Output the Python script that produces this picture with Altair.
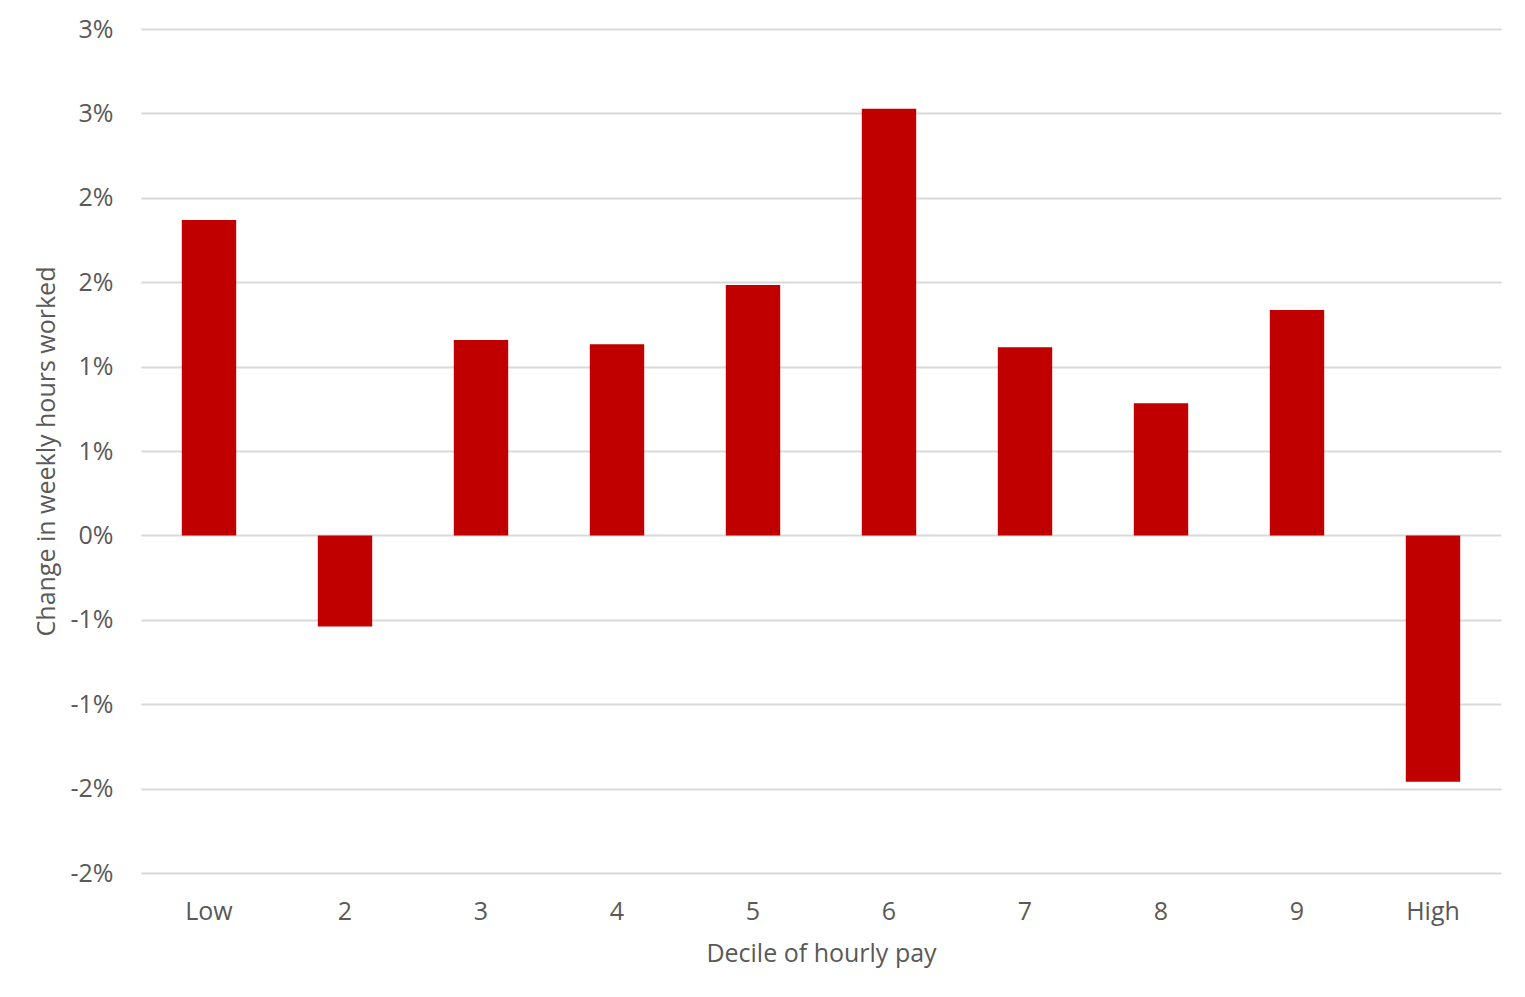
import altair as alt
import pandas as pd

deciles = ["Low", "2", "3", "4", "5", "6", "7", "8", "9", "High"]
changes = [1.868, -0.54, 1.157, 1.133, 1.483, 2.527, 1.115, 0.783, 1.335, -1.459]
y_ticks = [-2.0, -1.5, -1.0, -0.5, 0.0, 0.5, 1.0, 1.5, 2.0, 2.5, 3.0]

df = pd.DataFrame({"decile": deciles, "change": changes})

FONT = "Open Sans"
GREY = "#595959"
FS = 25

chart = alt.Chart(df).mark_bar(color="#C00000").encode(
    x=alt.X(
        "decile:N",
        sort=deciles,
        scale=alt.Scale(paddingInner=0.6, paddingOuter=0.3),
        axis=alt.Axis(
            title="Decile of hourly pay",
            labelAngle=0,
            domain=False,
            ticks=False,
            labelPadding=26,
            titlePadding=17,
            labelFontSize=FS,
            titleFontSize=FS,
            labelColor=GREY,
            titleColor=GREY,
            labelFont=FONT,
            titleFont=FONT,
            titleFontWeight="normal",
        ),
    ),
    y=alt.Y(
        "change:Q",
        scale=alt.Scale(domain=[-2, 3], nice=False, zero=False),
        axis=alt.Axis(
            title="Change in weekly hours worked",
            values=y_ticks,
            labelExpr="(datum.value < 0 ? '-' : '') + round(abs(datum.value)) + '%'",
            domain=False,
            ticks=False,
            labelPadding=28,
            titlePadding=10,
            labelFontSize=FS,
            titleFontSize=FS,
            labelColor=GREY,
            titleColor=GREY,
            labelFont=FONT,
            titleFont=FONT,
            titleFontWeight="normal",
            gridColor="#D9D9D9",
            gridWidth=2,
        ),
    ),
).properties(
    width=1360,
    height=844,
    padding={"left": 133, "top": 21, "right": 16, "bottom": 110},
    autosize=alt.AutoSizeParams(type="none"),
).configure(background="white").configure_view(stroke=None)

chart.save("out.html", embed_options={"renderer": "svg", "actions": False})
